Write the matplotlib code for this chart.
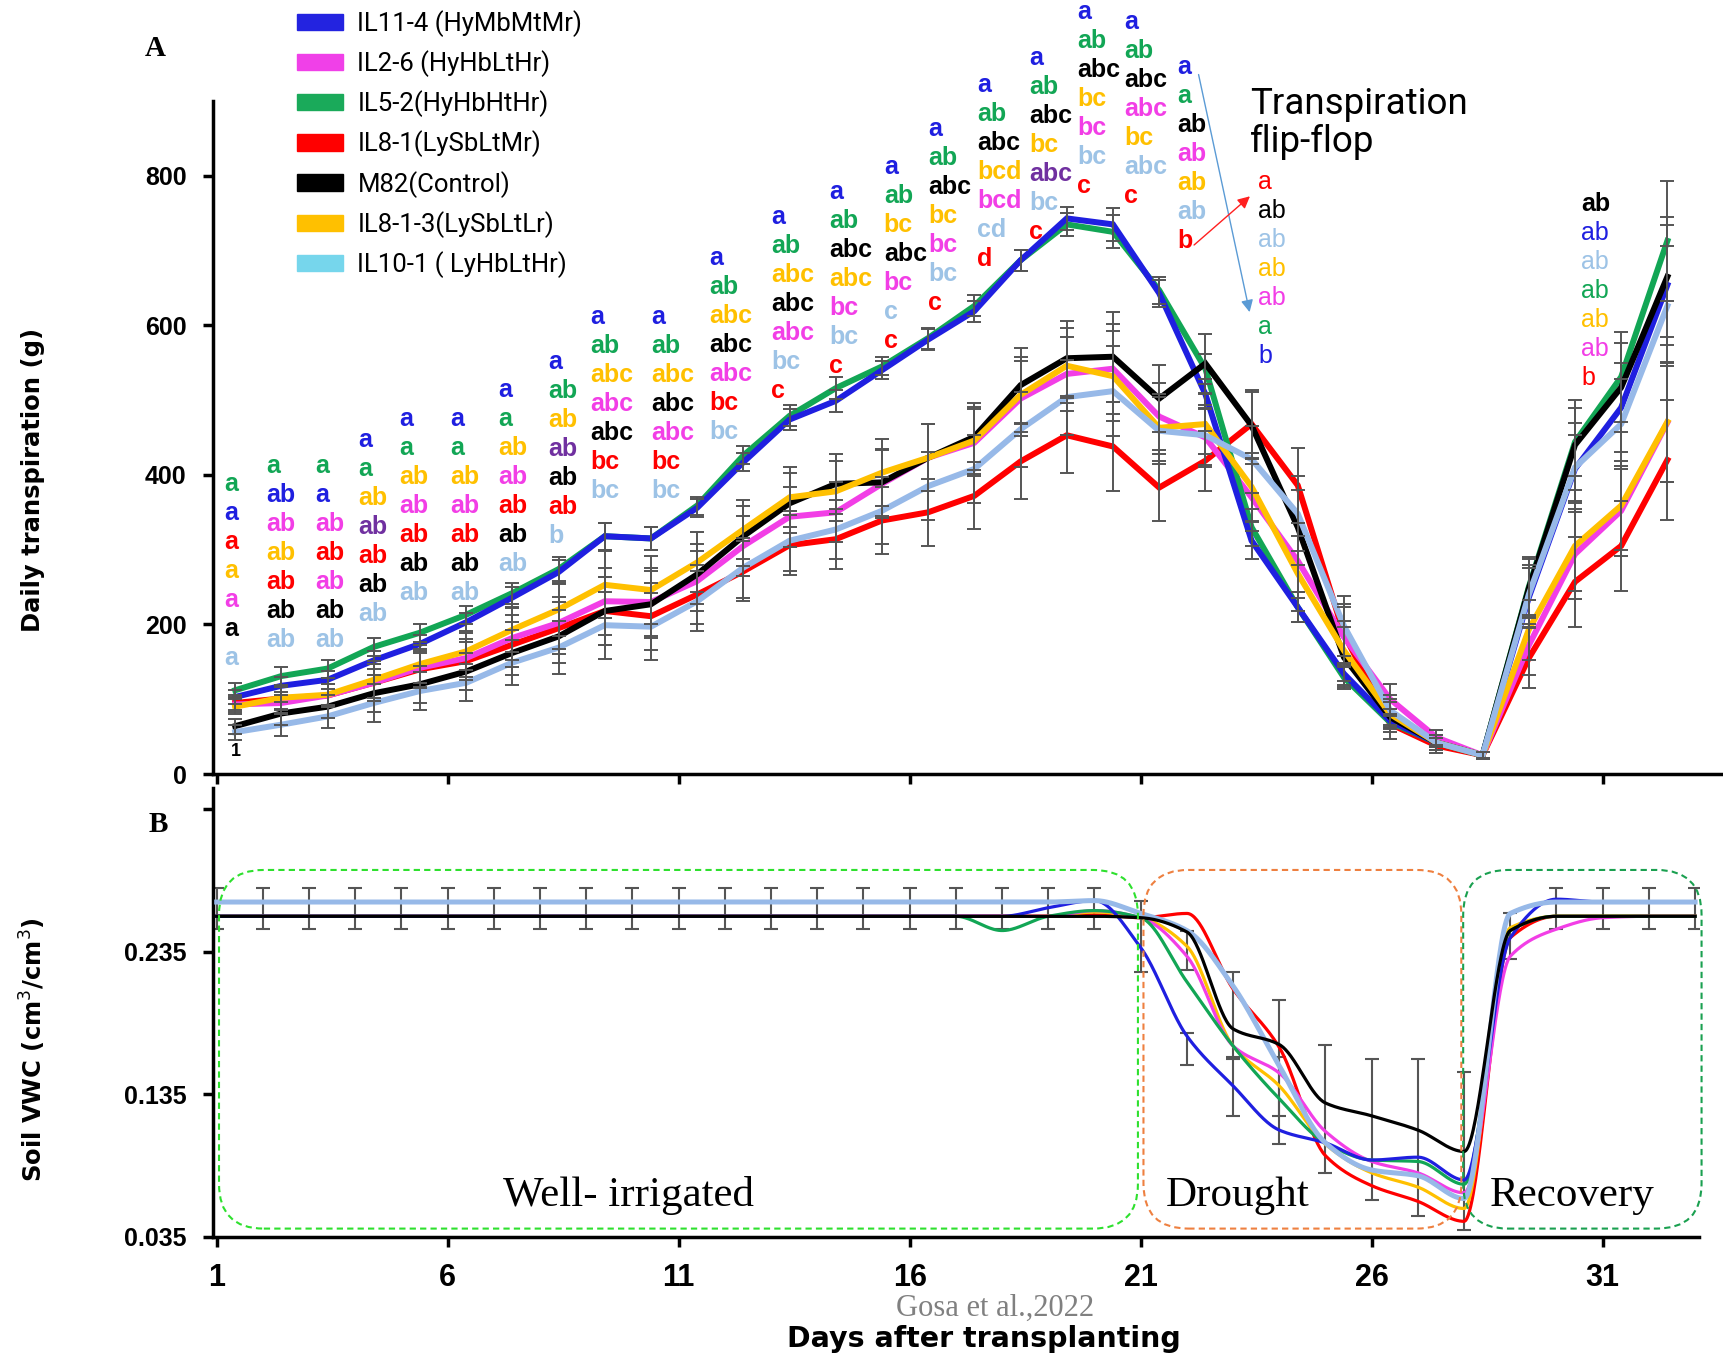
import numpy as np
import matplotlib
matplotlib.use('Agg')
import matplotlib.pyplot as plt
from matplotlib.patches import Patch, FancyBboxPatch

# ---------------- panel A: daily transpiration (g), 32 measured days
days_a = np.arange(1, 33)
trans_il11_4 = [103, 118, 126, 152, 174, 203, 236, 270, 318, 315, 356, 417, 474, 499, 540, 581,
                619, 687, 743, 735, 643, 508, 312, 223, 134, 71, 42, 25, 236, 408, 490, 654]
trans_il2_6 = [93, 95, 105, 122, 142, 155, 182, 202, 231, 230, 258, 305, 344, 350, 388, 423,
               443, 502, 535, 542, 478, 450, 370, 285, 183, 100, 49, 25, 172, 294, 352, 470]
trans_il5_2 = [112, 131, 141, 170, 189, 213, 242, 274, 318, 315, 359, 426, 479, 516, 545, 583,
               626, 687, 735, 725, 647, 542, 330, 223, 129, 69, 42, 25, 250, 444, 531, 713]
trans_il8_1 = [95, 101, 105, 122, 140, 151, 173, 195, 218, 211, 240, 271, 306, 314, 339, 350,
               372, 418, 453, 438, 383, 419, 468, 386, 187, 67, 38, 25, 155, 257, 305, 420]
trans_m82 = [64, 81, 90, 108, 120, 137, 162, 184, 218, 227, 267, 318, 362, 388, 390, 423,
             451, 520, 556, 558, 502, 549, 466, 330, 156, 76, 42, 25, 248, 440, 517, 665]
trans_il8_1_3 = [90, 102, 106, 126, 147, 164, 193, 220, 253, 246, 283, 327, 370, 378, 403, 423,
                 446, 507, 546, 532, 463, 468, 384, 268, 165, 80, 42, 25, 193, 305, 359, 471]
trans_il10_1 = [56, 66, 77, 95, 111, 122, 149, 169, 199, 197, 231, 276, 312, 327, 352, 385,
                408, 461, 504, 512, 459, 453, 421, 348, 198, 85, 42, 25, 240, 410, 468, 626]

# standard errors (g): high transpiring lines / the rest
err_high = [10, 12, 12, 12, 12, 12, 14, 16, 18, 15, 12, 12, 14, 15, 12, 14,
            14, 14, 15, 22, 18, 20, 25, 20, 15, 8, 6, 4, 40, 45, 60, 80]
err_low = [10, 15, 15, 25, 25, 25, 30, 35, 45, 45, 40, 40, 40, 40, 45, 45,
           45, 50, 50, 60, 45, 40, 45, 50, 40, 20, 10, 5, 40, 60, 60, 80]

# ---------------- panel B: soil VWC (cm3/cm3), days 1-33
days_b = np.arange(1, 34)
vwc_il11_4 = [0.260, 0.260, 0.260, 0.260, 0.260, 0.260, 0.260, 0.260, 0.260, 0.260, 0.260,
              0.260, 0.260, 0.260, 0.260, 0.260, 0.260, 0.260, 0.266, 0.271, 0.238, 0.176,
              0.141, 0.110, 0.101, 0.089, 0.091, 0.075, 0.245, 0.272, 0.270, 0.270, 0.270]
vwc_il2_6 = [0.260, 0.260, 0.260, 0.260, 0.260, 0.260, 0.260, 0.260, 0.260, 0.260, 0.260,
             0.260, 0.260, 0.260, 0.260, 0.260, 0.260, 0.260, 0.260, 0.264, 0.259, 0.232,
             0.169, 0.150, 0.109, 0.088, 0.080, 0.066, 0.232, 0.251, 0.259, 0.260, 0.260]
vwc_il5_2 = [0.260, 0.260, 0.260, 0.260, 0.260, 0.260, 0.260, 0.260, 0.260, 0.260, 0.260,
             0.260, 0.260, 0.260, 0.260, 0.260, 0.260, 0.250, 0.260, 0.264, 0.259, 0.214,
             0.169, 0.132, 0.101, 0.089, 0.088, 0.072, 0.250, 0.260, 0.260, 0.260, 0.260]
vwc_il8_1 = [0.260, 0.260, 0.260, 0.260, 0.260, 0.260, 0.260, 0.260, 0.260, 0.260, 0.260,
             0.260, 0.260, 0.260, 0.260, 0.260, 0.260, 0.260, 0.260, 0.261, 0.259, 0.262,
             0.209, 0.168, 0.092, 0.071, 0.060, 0.046, 0.245, 0.260, 0.260, 0.260, 0.260]
vwc_m82 = [0.260, 0.260, 0.260, 0.260, 0.260, 0.260, 0.260, 0.260, 0.260, 0.260, 0.260,
           0.260, 0.260, 0.260, 0.260, 0.260, 0.260, 0.260, 0.260, 0.260, 0.259, 0.249,
           0.181, 0.170, 0.129, 0.120, 0.110, 0.095, 0.250, 0.260, 0.260, 0.260, 0.260]
vwc_il8_1_3 = [0.260, 0.260, 0.260, 0.260, 0.260, 0.260, 0.260, 0.260, 0.260, 0.260, 0.260,
               0.260, 0.260, 0.260, 0.260, 0.260, 0.260, 0.260, 0.260, 0.263, 0.259, 0.239,
               0.169, 0.141, 0.100, 0.080, 0.070, 0.055, 0.252, 0.260, 0.260, 0.260, 0.260]
vwc_il10_1 = [0.270, 0.270, 0.270, 0.270, 0.270, 0.270, 0.270, 0.270, 0.270, 0.270, 0.270,
              0.270, 0.270, 0.270, 0.270, 0.270, 0.270, 0.270, 0.270, 0.271, 0.262, 0.250,
              0.211, 0.155, 0.101, 0.082, 0.078, 0.062, 0.262, 0.270, 0.270, 0.270, 0.270]
# error bar ends
vwc_bar_lo = [0.251, 0.251, 0.251, 0.251, 0.251, 0.251, 0.251, 0.251, 0.251, 0.251, 0.251,
              0.251, 0.251, 0.251, 0.251, 0.251, 0.251, 0.251, 0.251, 0.251, 0.221, 0.222,
              0.160, 0.120, 0.080, 0.061, 0.050, 0.040, 0.230, 0.251, 0.251, 0.251, 0.251]
vwc_bar_hi = [0.280, 0.280, 0.280, 0.280, 0.280, 0.280, 0.280, 0.280, 0.280, 0.280, 0.280,
              0.280, 0.280, 0.280, 0.280, 0.280, 0.280, 0.280, 0.280, 0.280, 0.271, 0.250,
              0.221, 0.201, 0.170, 0.160, 0.160, 0.151, 0.262, 0.280, 0.280, 0.280, 0.280]
bar2_days = [22, 23, 24]
bar2_lo = [0.156, 0.120, 0.100]
bar2_hi = [0.178, 0.161, 0.161]

labels = ['IL11-4 (HyMbMtMr)', 'IL2-6 (HyHbLtHr)', 'IL5-2(HyHbHtHr)', 'IL8-1(LySbLtMr)',
          'M82(Control)', 'IL8-1-3(LySbLtLr)', 'IL10-1 ( LyHbLtHr)']

# significance letters per column (top to bottom) and their colour codes
sig_letters = [
    ['a', 'a', 'a', 'a', 'a', 'a', 'a'],
    ['a', 'ab', 'ab', 'ab', 'ab', 'ab', 'ab'],
    ['a', 'a', 'ab', 'ab', 'ab', 'ab', 'ab'],
    ['a', 'a', 'ab', 'ab', 'ab', 'ab', 'ab'],
    ['a', 'a', 'ab', 'ab', 'ab', 'ab', 'ab'],
    ['a', 'a', 'ab', 'ab', 'ab', 'ab', 'ab'],
    ['a', 'a', 'ab', 'ab', 'ab', 'ab', 'ab'],
    ['a', 'ab', 'ab', 'ab', 'ab', 'ab', 'b'],
    ['a', 'ab', 'abc', 'abc', 'abc', 'bc', 'bc'],
    ['a', 'ab', 'abc', 'abc', 'abc', 'bc', 'bc'],
    ['a', 'ab', 'abc', 'abc', 'abc', 'bc', 'bc'],
    ['a', 'ab', 'abc', 'abc', 'abc', 'bc', 'c'],
    ['a', 'ab', 'abc', 'abc', 'bc', 'bc', 'c'],
    ['a', 'ab', 'bc', 'abc', 'bc', 'c', 'c'],
    ['a', 'ab', 'abc', 'bc', 'bc', 'bc', 'c'],
    ['a', 'ab', 'abc', 'bcd', 'bcd', 'cd', 'd'],
    ['a', 'ab', 'abc', 'bc', 'abc', 'bc', 'c'],
    ['a', 'ab', 'abc', 'bc', 'bc', 'bc', 'c'],
    ['a', 'ab', 'abc', 'abc', 'bc', 'abc', 'c'],
    ['a', 'a', 'ab', 'ab', 'ab', 'ab', 'b'],
]
sig_colors = ['gbrymkl', 'gbmyrkl', 'gbmrmkl', 'bgyprkl', 'bgymrkl', 'bgymrkl', 'bgymrkl',
              'bgypkrl', 'bgymkrl', 'bgykmrl', 'bgykmrl', 'bgykmlr', 'bgkymlr', 'bgykmlr',
              'bgkymlr', 'bgkymlr', 'bgkyplr', 'bgkymlr', 'bgkmylr', 'bgkmylr']
flip_letters = ['a', 'ab', 'ab', 'ab', 'ab', 'a', 'b']
flip_colors = 'rklymgb'
rec_letters = ['ab', 'ab', 'ab', 'ab', 'ab', 'ab', 'b']
rec_colors = 'kblgymr'

# layout of the letter columns (left x, centre of first line)
col_x = [1.17, 2.08, 3.13, 4.06, 4.95, 6.05, 7.09, 8.17, 9.09, 10.40, 11.66, 13.0, 14.25,
         15.44, 16.40, 17.46, 18.58, 19.62, 20.64, 21.79]
col_top = [388, 412, 412, 447, 475, 475, 514, 551, 611, 611, 690, 745, 778, 812, 863, 921,
           958, 1019, 1006, 946]
line_step = 38.8

C = {'b': '#1f1fe0', 'm': '#f23ee6', 'g': '#12a655', 'r': '#ff0000', 'k': '#000000',
     'y': '#ffc000', 'l': '#9dc3e6', 'p': '#7030a0'}
line_colors = ['#1f1fe0', '#f23ee6', '#12a655', '#ff0000', '#000000', '#ffc000', '#97b9e8']
legend_colors = ['#2323e0', '#f040e8', '#1aaa5a', '#ff0000', '#000000', '#ffc000', '#76d6ec']

W, H = 1724, 1357
shift_a = 0.4
SANS = ['Liberation Sans', 'DejaVu Sans']
WIDE = ['DejaVu Sans']
SERIF = ['Liberation Serif', 'DejaVu Serif']


def pchip(x, y, xs):
    x = np.asarray(x, float)
    y = np.asarray(y, float)
    h = np.diff(x)
    d = np.diff(y) / h
    m = np.zeros_like(y)
    m[0], m[-1] = d[0], d[-1]
    for k in range(1, len(x) - 1):
        if d[k - 1] * d[k] > 0:
            w1 = 2 * h[k] + h[k - 1]
            w2 = h[k] + 2 * h[k - 1]
            m[k] = (w1 + w2) / (w1 / d[k - 1] + w2 / d[k])
    i = np.clip(np.searchsorted(x, xs) - 1, 0, len(x) - 2)
    t = (xs - x[i]) / h[i]
    return ((2 * t**3 - 3 * t**2 + 1) * y[i] + (t**3 - 2 * t**2 + t) * h[i] * m[i]
            + (-2 * t**3 + 3 * t**2) * y[i + 1] + (t**3 - t**2) * h[i] * m[i + 1])


fig = plt.figure(figsize=(W / 100, H / 100), dpi=100)
axA = fig.add_axes([213 / W, 1 - 774 / H, (W - 213) / W, (774 - 101) / H])
axB = fig.add_axes([213 / W, 1 - 1237 / H, (1699 - 213) / W, (1237 - 788) / H])

xticks = [1, 6, 11, 16, 21, 26, 31]
for ax in (axA, axB):
    for s in ('top', 'right'):
        ax.spines[s].set_visible(False)
    for s in ('left', 'bottom'):
        ax.spines[s].set_linewidth(2.5)
    ax.set_xticks(xticks)
    ax.tick_params(width=2.5, length=7, direction='out')
    ax.set_facecolor('none')

# ---- panel A
series_a = [trans_il11_4, trans_il2_6, trans_il5_2, trans_il8_1, trans_m82, trans_il8_1_3, trans_il10_1]
errs = [err_high, err_low, err_high, err_low, err_low, err_low, err_low]
xa = days_a + shift_a
for ys, e in zip(series_a, errs):
    axA.errorbar(xa, ys, yerr=e, fmt='none', ecolor='#555555', elinewidth=1.4,
                 capsize=5, capthick=1.4, zorder=4)
for idx in [3, 1, 2, 0, 4, 5, 6]:
    axA.plot(xa, series_a[idx], color=line_colors[idx], lw=4.3, zorder=3,
             solid_joinstyle='miter')

axA.set_xlim(0.92, 0.92 + (W - 213) / 46.2)
axA.set_ylim(0, 900)
axA.set_yticks([0, 200, 400, 600, 800])
axA.set_xticklabels([])
for lab in axA.get_yticklabels():
    lab.set_fontsize(18)
    lab.set_fontweight('bold')
    lab.set_family(SANS)
axA.tick_params(axis='y', pad=12)

for cx, top, lets, cols in zip(col_x, col_top, sig_letters, sig_colors):
    for i, (t, c) in enumerate(zip(lets, cols)):
        axA.text(cx, top - i * line_step, t, color=C[c], fontsize=18, fontweight='bold',
                 family=SANS, ha='left', va='center', clip_on=False)
for i, (t, c) in enumerate(zip(flip_letters, flip_colors)):
    axA.text(23.54, 792 - i * line_step, t, color=C[c], fontsize=18, family=SANS,
             ha='left', va='center', clip_on=False)
for i, (t, c) in enumerate(zip(rec_letters, rec_colors)):
    axA.text(30.53, 762 - i * line_step, t, color=C[c], fontsize=18, family=SANS,
             fontweight='bold' if i == 0 else 'normal', ha='left', va='center', clip_on=False)
axA.text(1.42, 30, '1', fontsize=13, fontweight='bold', family=SANS, ha='center', va='center')

axA.text(23.37, 871, 'Transpiration\nflip-flop', fontsize=26.5, family=['Roboto', 'DejaVu Sans'],
         ha='left', va='center', linespacing=1.07, clip_on=False)
axA.annotate('', xy=(23.37, 614), xytext=(22.24, 939), annotation_clip=False,
             arrowprops=dict(arrowstyle='-|>', color='#5b9bd5', lw=1.0, mutation_scale=18))
axA.annotate('', xy=(23.41, 775), xytext=(22.11, 705), annotation_clip=False,
             arrowprops=dict(arrowstyle='-|>', color='#ff2020', lw=1.0, mutation_scale=18))

handles = [Patch(facecolor=c, edgecolor=c) for c in legend_colors]
fig.legend(handles, labels, loc='upper left', bbox_to_anchor=(297 / W, 1 - 10 / H),
           frameon=False, prop={'family': ['Roboto', 'DejaVu Sans'], 'size': 18.5},
           handlelength=1.8, handleheight=0.6, handletextpad=0.55, labelspacing=0.52,
           borderpad=0, borderaxespad=0)

# ---- panel B
series_b = [vwc_il11_4, vwc_il2_6, vwc_il5_2, vwc_il8_1, vwc_m82, vwc_il8_1_3, vwc_il10_1]
xs = np.linspace(1, 33, 1200)
lo = np.array(vwc_bar_lo)
hi = np.array(vwc_bar_hi)
axB.errorbar(days_b, (lo + hi) / 2, yerr=(hi - lo) / 2, fmt='none', ecolor='#555555',
             elinewidth=1.5, capsize=5, capthick=1.5, zorder=2)
lo2 = np.array(bar2_lo)
hi2 = np.array(bar2_hi)
axB.errorbar(bar2_days, (lo2 + hi2) / 2, yerr=(hi2 - lo2) / 2, fmt='none', ecolor='#555555',
             elinewidth=1.5, capsize=5, capthick=1.5, zorder=2)
for idx in [3, 5, 1, 2, 0, 6, 4]:
    axB.plot(xs, pchip(days_b, series_b[idx], xs), color=line_colors[idx],
             lw=3.6 if idx == 6 else 2.3, zorder=3)

axB.set_xlim(0.92, 0.92 + (1699 - 213) / 46.2)
axB.set_ylim(0.035, 0.350)
axB.set_yticks([0.035, 0.135, 0.235, 0.335])
axB.set_yticklabels(['0.035', '0.135', '0.235', ''])
axB.set_xticklabels([str(t) for t in xticks])
for lab in axB.get_yticklabels():
    lab.set_fontsize(18)
    lab.set_fontweight('bold')
    lab.set_family(SANS)
for lab in axB.get_xticklabels():
    lab.set_fontsize(22)
    lab.set_fontweight('bold')
    lab.set_family(SANS)
axB.tick_params(axis='y', pad=12)
axB.tick_params(axis='x', pad=12)

# phase boxes
phases = [(1.05, 20.94, '#2ee02e', 'Well- irrigated', 9.91),
          (21.06, 27.94, '#ee8040', 'Drought', 23.09),
          (27.98, 33.14, '#1aa050', 'Recovery', 30.33)]
inv = fig.transFigure.inverted()
for x0, x1, col, name, tx in phases:
    p0 = inv.transform(axB.transData.transform((x0, 0.0409)))
    p1 = inv.transform(axB.transData.transform((x1, 0.2925)))
    box = FancyBboxPatch((p0[0], p0[1]), p1[0] - p0[0], p1[1] - p0[1],
                         boxstyle='round,pad=0,rounding_size=0.026', mutation_aspect=W / H,
                         transform=fig.transFigure, fill=False, edgecolor=col, lw=1.5,
                         linestyle=(0, (3, 2)))
    fig.add_artist(box)
    axB.text(tx, 0.0642, name, fontsize=31, family=SERIF, ha='center', va='center')

# titles and labels
fig.text(155 / W, 1 - 49 / H, 'A', fontsize=21, fontweight='bold', family=SERIF, ha='center', va='center')
fig.text(158 / W, 1 - 825 / H, 'B', fontsize=21, fontweight='bold', family=SERIF, ha='center', va='center')
fig.text(33 / W, 1 - 480 / H, 'Daily transpiration (g)', rotation=90, fontsize=17.5,
         fontweight='bold', family=WIDE, ha='center', va='center')
fig.text(33 / W, 1 - 1050 / H, 'Soil VWC (cm$^3$/cm$^3$)', rotation=90, fontsize=17.5,
         fontweight='bold', family=WIDE, ha='center', va='center')
fig.text(984 / W, 1 - 1339 / H, 'Days after transplanting', fontsize=20.5, fontweight='bold',
         family=WIDE, ha='center', va='center')
fig.text(995 / W, 1 - 1308 / H, 'Gosa et al.,2022', fontsize=22, color='#808080',
         family=SERIF, ha='center', va='center')

fig.savefig('out.png', dpi=100)
